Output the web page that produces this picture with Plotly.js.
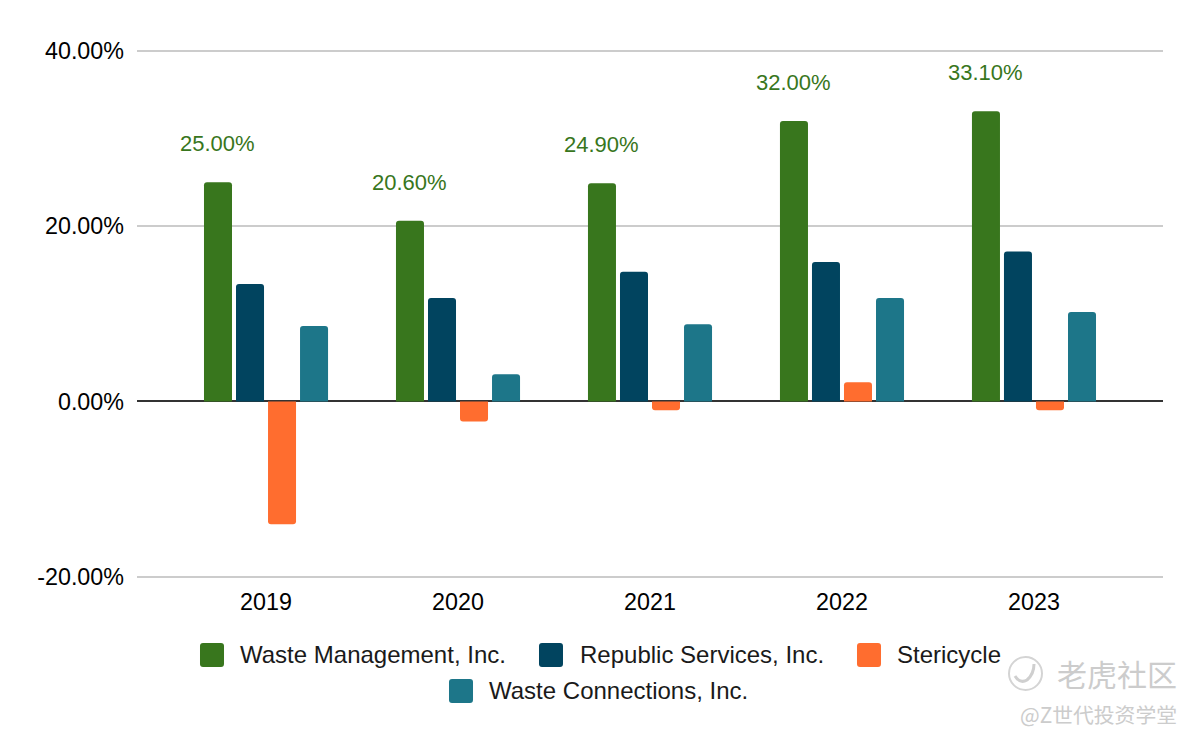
<!DOCTYPE html>
<html><head><meta charset="utf-8">
<script src="https://cdn.plot.ly/plotly-3.0.1.min.js"></script>
<style>html,body{margin:0;padding:0;background:#fff}#c{width:1200px;height:742px}</style>
</head><body><div id="c"></div>
<script>
const years = ['2019','2020','2021','2022','2023'];
const seriesNames = ['Waste Management, Inc.','Republic Services, Inc.','Stericycle','Waste Connections, Inc.'];
const colors = ['#38761d','#01445f','#ff6d2f','#1d7689'];
const wasteManagement = [25.0,20.6,24.9,32.0,33.1];
const republicServices = [13.4,11.8,14.8,15.9,17.1];
const stericycle = [-14.0,-2.3,-1.0,2.2,-1.0];
const wasteConnections = [8.6,3.1,8.8,11.8,10.2];
const wmLabels = ['25.00%','20.60%','24.90%','32.00%','33.10%'];
const yTicks = [-20,0,20,40];
const yTickLabels = ['-20.00%','0.00%','20.00%','40.00%'];

const W=1200,H=742;
const FONT='"Liberation Sans", Arial, sans-serif';
const allSeries=[wasteManagement,republicServices,stericycle,wasteConnections];
const traces=allSeries.map((v,i)=>({type:'bar',name:seriesNames[i],x:years,y:v,marker:{color:colors[i],line:{width:0}},hoverinfo:'x+y'}));

const m={l:137,r:37,t:49,b:163};
const pw=W-m.l-m.r,ph=H-m.t-m.b;
const px=x=>(x-m.l)/pw, py=y=>1-(y-m.t)/ph;
function swatch(x,y,s,r,color){
  const X=a=>px(a).toFixed(5),Y=a=>py(a).toFixed(5);
  return {type:'path',xref:'paper',yref:'paper',fillcolor:color,line:{width:0},layer:'above',
   path:`M${X(x+r)},${Y(y)}L${X(x+s-r)},${Y(y)}Q${X(x+s)},${Y(y)} ${X(x+s)},${Y(y+r)}L${X(x+s)},${Y(y+s-r)}Q${X(x+s)},${Y(y+s)} ${X(x+s-r)},${Y(y+s)}L${X(x+r)},${Y(y+s)}Q${X(x)},${Y(y+s)} ${X(x)},${Y(y+s-r)}L${X(x)},${Y(y+r)}Q${X(x)},${Y(y)} ${X(x+r)},${Y(y)}Z`};
}
function label(text,x,y,size,color,family){
  return {xref:'paper',yref:'paper',x:px(x),y:py(y),text:text,showarrow:false,xanchor:'left',yanchor:'middle',
    font:{family:family||FONT,size:size,color:color},borderpad:0,align:'left'};
}
const legendPos=[[200,643,239,654],[539,643,579,654],[857,643,896,654],[449,679,488,690]];
const shapes=legendPos.map((p,i)=>swatch(p[0],p[1],24,3,colors[i]));
const annotations=legendPos.map((p,i)=>label(seriesNames[i],p[2],p[3],24,'#1a1a1a'));
wmLabels.forEach((t,i)=>annotations.push({xref:'x',yref:'y',x:i,y:wasteManagement[i],text:t,showarrow:false,xanchor:'center',yanchor:'middle',xshift:-48.5,yshift:38.5,font:{family:FONT,size:22,color:'#38761d'}}));
// watermark
const CJK='"Noto Sans CJK SC", sans-serif';
annotations.push(label('老虎社区',1056,673,30,'#cccccc',CJK));
annotations.push(label('@Z世代投资学堂',1019,714,20.8,'#cccccc',CJK));
shapes.push({type:'circle',xref:'paper',yref:'paper',x0:px(1009),x1:px(1042),y0:py(657),y1:py(690),line:{color:'#d4d4d4',width:2},layer:'above'});
shapes.push({type:'path',xref:'paper',yref:'paper',line:{color:'#cfcfcf',width:3},layer:'above',
  path:`M${px(1015)},${py(676)}Q${px(1020)},${py(684)} ${px(1027)},${py(680)}Q${px(1034)},${py(674)} ${px(1034)},${py(664)}`});

Plotly.newPlot('c',traces,{
  width:W,height:H,margin:m,paper_bgcolor:'#fff',plot_bgcolor:'#fff',showlegend:false,
  barmode:'group',bargap:0.333,bargroupgap:0.125,barcornerradius:3,
  font:{family:FONT,color:'#000'},
  xaxis:{type:'category',range:[-0.672,4.672],showgrid:false,zeroline:false,showline:false,ticks:'',
    tickfont:{family:FONT,size:23.3,color:'#000'},automargin:false,ticklabelstandoff:7},
  yaxis:{range:[-20.25,40.2],tickvals:yTicks,ticktext:yTickLabels,showgrid:true,gridcolor:'#cccccc',gridwidth:2,
    zeroline:true,zerolinecolor:'#333333',zerolinewidth:2,showline:false,ticks:'',
    tickfont:{family:FONT,size:23.3,color:'#000'},automargin:false,ticklabelstandoff:12},
  shapes:shapes,annotations:annotations
},{displayModeBar:false,staticPlot:true});
</script></body></html>
